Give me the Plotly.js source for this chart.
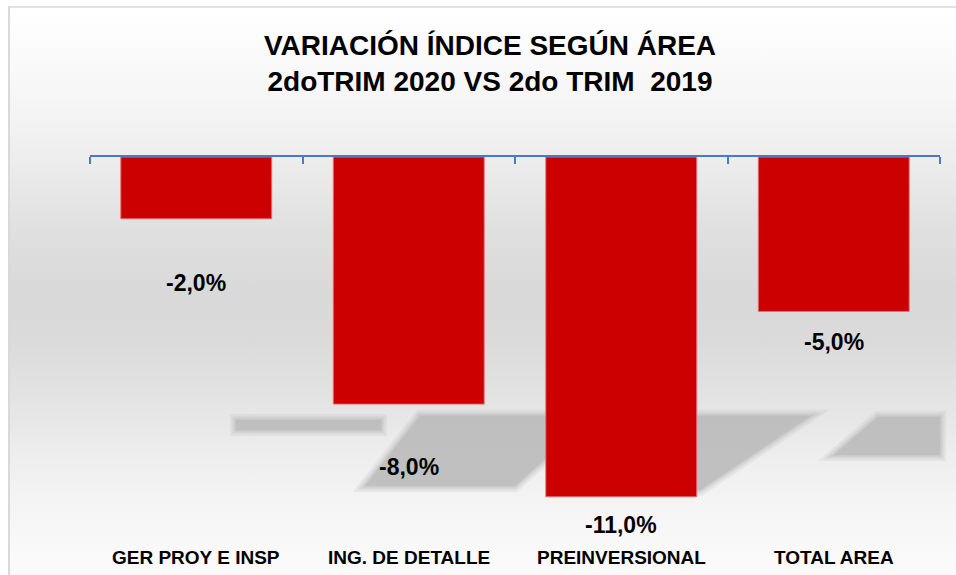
<!DOCTYPE html>
<html>
<head>
<meta charset="utf-8">
<script src="https://cdn.plot.ly/plotly-3.0.1.min.js"></script>
<style>
  html, body { margin: 0; padding: 0; background: #ffffff; }
  #wrap { position: relative; width: 956px; height: 575px; overflow: hidden; }
  #bg {
    position: absolute; left: 8px; top: 6px; width: 948px; height: 569px;
    border-left: 2px solid #d9d9d9; border-top: 2px solid #e2e2e2;
    background: linear-gradient(to bottom,
      #ffffff 0px, #f6f6f6 90px, #ededed 150px, #e0e0e0 220px,
      #d9d9d9 280px, #dadada 330px, #e3e3e3 390px, #eeeeee 450px,
      #f6f6f6 510px, #fbfbfb 569px);
  }
  #chart { position: absolute; left: 0; top: 0; width: 956px; height: 575px; }
</style>
</head>
<body>
<div id="wrap">
  <div id="bg"></div>
  <div id="chart"></div>
</div>
<script>
// ---- data ----
const categories = ["GER PROY E INSP", "ING. DE DETALLE", "PREINVERSIONAL", "TOTAL AREA"];
const values = [-2.0, -8.0, -11.0, -5.0];
const titleLines = ["VARIACIÓN ÍNDICE SEGÚN ÁREA", "2doTRIM 2020 VS 2do TRIM \u00a02019"];

// ---- layout / style ----
const labelOffsetPx = [64, 63, 28, 31];   // distance of value label below bar end
const M = { l: 90, r: 16, t: 157, b: 1 };
const W = 956, H = 575;
const plotW = W - M.l - M.r, plotH = H - M.t - M.b;
const X = px => (px - M.l) / plotW;
const Y = py => (H - M.b - py) / plotH;
const FONT = "Liberation Sans, Arial, sans-serif";
const AXIS_COLOR = '#4a78cc';

function fmt(v) { return v.toFixed(1).replace('.', ',') + '%'; }

function poly(pts) {
  return 'M' + pts.map(p => X(p[0]).toFixed(5) + ',' + Y(p[1]).toFixed(5)).join(' L') + ' Z';
}
const shadowPolys = [
  [[236,420],[381,420],[381,430],[236,430]],
  [[420,416],[592,416],[515,486],[365,486]],
  [[648,416],[810,416],[700,490],[648,490]],
  [[878,417],[940,417],[940,455],[834,455]]
];
// soft-edged shadows: stacked copies with wide translucent outlines
const softLayers = [
  { w: 12, op: 0.18 },
  { w: 7, op: 0.25 },
  { w: 3, op: 0.35 },
  { w: 0, op: 0.45 }
];
const shapes = [];
shadowPolys.forEach(p => {
  softLayers.forEach(s => shapes.push({
    type: 'path', xref: 'paper', yref: 'paper', path: poly(p),
    fillcolor: '#b4b4b4', opacity: s.op,
    line: { width: s.w, color: '#b4b4b4' }, layer: 'below'
  }));
});
// end ticks of the category axis
[M.l, W - M.r].forEach(px => shapes.push({
  type: 'line', xref: 'paper', yref: 'paper',
  x0: X(px), x1: X(px), y0: Y(157), y1: Y(164),
  line: { color: AXIS_COLOR, width: 2 }, layer: 'above'
}));

const annotations = [];
categories.forEach((c, i) => {
  annotations.push({
    x: c, y: values[i], xref: 'x', yref: 'y', yshift: -labelOffsetPx[i],
    text: fmt(values[i]), showarrow: false, xanchor: 'center', yanchor: 'middle',
    font: { family: FONT, size: 23, color: '#000000', weight: 700 }
  });
  annotations.push({
    x: c, y: Y(557), xref: 'x', yref: 'paper',
    text: c, showarrow: false, xanchor: 'center', yanchor: 'middle',
    font: { family: FONT, size: 19, color: '#000000', weight: 700 }
  });
});

const trace = {
  type: 'bar', x: categories, y: values,
  marker: { color: '#cc0000', line: { color: 'rgba(235,110,110,0.9)', width: 1 } },
  hoverinfo: 'none'
};

const layout = {
  width: W, height: H,
  margin: M,
  paper_bgcolor: 'rgba(0,0,0,0)', plot_bgcolor: 'rgba(0,0,0,0)',
  showlegend: false,
  bargap: 0.29,
  title: {
    text: titleLines.join('<br>'),
    font: { family: FONT, size: 28, color: '#000000', weight: 700 },
    x: 490 / W, xanchor: 'center', xref: 'container',
    y: 1 - 55 / H, yanchor: 'middle', yref: 'container'
  },
  xaxis: {
    type: 'category', side: 'top', showline: true, linecolor: AXIS_COLOR, linewidth: 2,
    range: [-0.5, 3.5],
    ticks: 'inside', tickson: 'boundaries', ticklen: 7, tickwidth: 2, tickcolor: AXIS_COLOR,
    showticklabels: false, showgrid: false, zeroline: false, fixedrange: true
  },
  yaxis: {
    range: [-13.5, 0], visible: false, showgrid: false, zeroline: false, fixedrange: true
  },
  shapes: shapes,
  annotations: annotations
};

Plotly.newPlot('chart', [trace], layout, { displayModeBar: false, staticPlot: true });
</script>
</body>
</html>
